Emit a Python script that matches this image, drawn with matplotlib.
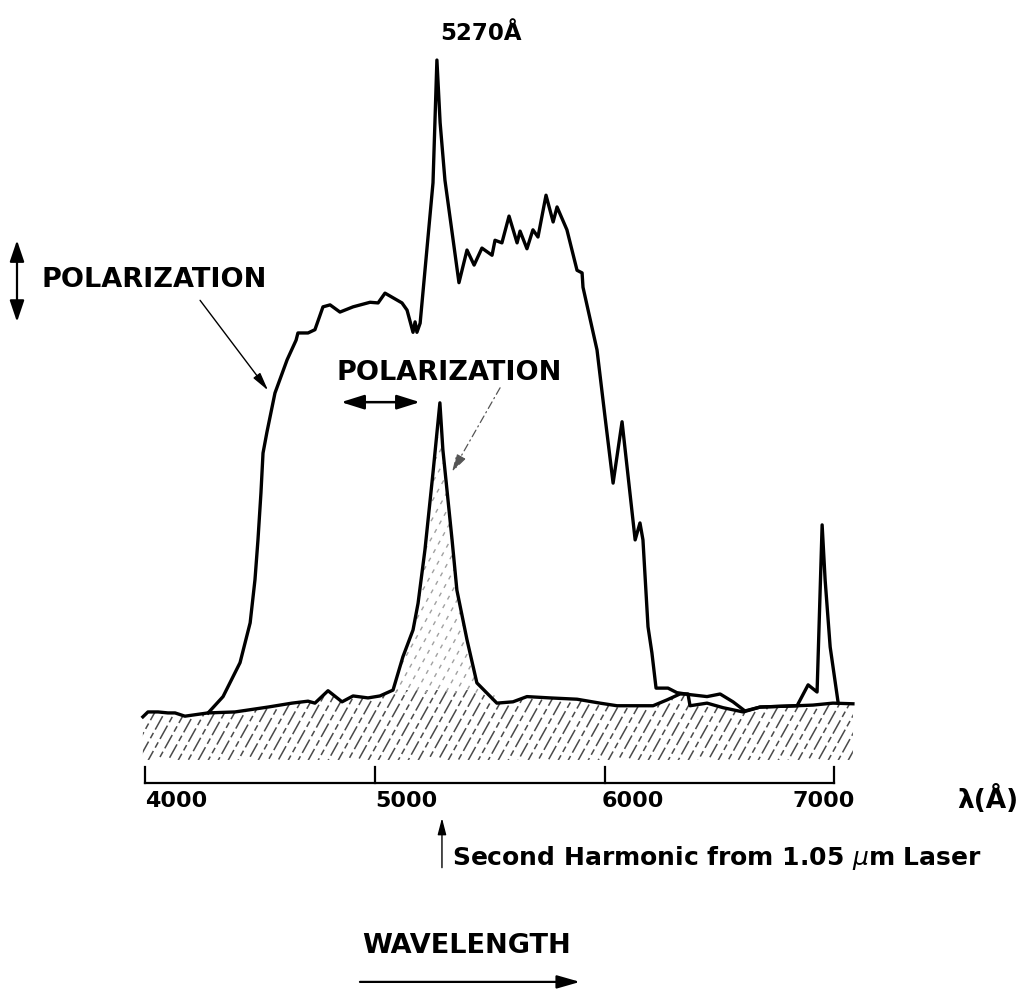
import numpy as np
import matplotlib
matplotlib.use("Agg")
import matplotlib.pyplot as plt
from matplotlib.patches import FancyArrowPatch, Polygon
from matplotlib.collections import LineCollection

plt.rcParams['font.family'] = ['DejaVu Sans']

# Broad emission spectrum (wavelength in Angstrom, relative intensity)
broad_wl = [4274, 4339, 4413, 4457, 4478, 4491, 4504, 4513, 4530, 4565, 4618, 4657,
            4665, 4709, 4739, 4774, 4805, 4848, 4905, 4979, 5014, 5044, 5118, 5140,
            5166, 5175, 5183, 5197, 5253, 5270, 5284, 5305, 5366, 5401, 5432, 5466,
            5510, 5523, 5553, 5584, 5619, 5632, 5662, 5688, 5710, 5745, 5776, 5793,
            5836, 5880, 5902, 5906, 5967, 6002, 6037, 6076, 6133, 6154, 6167, 6189,
            6206, 6224, 6276, 6315, 6372, 6446, 6503, 6559, 6611, 6677, 6838, 6886,
            6925, 6947, 6960, 6982, 7017]
broad_int = [0.0, 2.5, 7.7, 13.8, 20.4, 26.5, 33.7, 39.8, 43.0, 49.0, 54.1, 57.1,
             58.2, 58.2, 58.7, 62.2, 62.5, 61.4, 62.2, 62.9, 62.8, 64.3, 62.8, 61.7,
             58.3, 59.9, 58.3, 59.7, 81.2, 100.0, 90.4, 81.6, 65.9, 70.9, 68.6, 71.2,
             70.1, 72.4, 72.0, 76.1, 72.0, 73.8, 71.1, 74.0, 72.9, 79.3, 75.2, 77.5,
             74.0, 67.8, 67.4, 65.2, 55.6, 45.3, 35.2, 44.6, 26.5, 29.1, 26.5, 13.2,
             9.2, 3.8, 3.8, 3.1, 2.8, 2.5, 2.9, 1.7, 0.3, 0.9, 1.1, 4.3,
             3.2, 28.8, 20.4, 10.1, 1.5]

# Crossed-polarization spectrum (background with the laser second harmonic)
base_wl = [3990, 4012, 4056, 4099, 4130, 4173, 4273, 4391, 4535, 4639, 4709, 4739,
           4796, 4857, 4905, 4970, 5022, 5079, 5122, 5166, 5188, 5218, 5253, 5283,
           5296, 5336, 5357, 5401, 5444, 5531, 5601, 5662, 5762, 5880, 5980, 6054,
           6211, 6272, 6328, 6363, 6372, 6446, 6516, 6603, 6677, 6838, 6907, 6994,
           7081]
base_int = [-0.6, 0.15, 0.15, 0.0, 0.0, -0.5, 0.0, 0.15, 0.9, 1.5, 1.8, 1.5,
            3.4, 1.7, 2.6, 2.3, 2.6, 3.5, 8.6, 12.7, 16.8, 25.0, 36.8, 47.5,
            40.3, 26.5, 18.8, 11.2, 4.6, 1.5, 1.7, 2.5, 2.3, 2.1, 1.5, 1.1,
            1.1, 2.0, 2.9, 2.9, 1.1, 1.5, 0.8, 0.15, 0.9, 1.1, 1.2, 1.5,
            1.4]

tick_values = [4000, 5000, 6000, 7000]
tick_labels = ["4000", "5000", "6000", "7000"]
tick_label_x = [4000, 5000, 5985, 6820]

peak_label = "5270Å"

W, H = 1033, 993
XLIM = (3368, 7865)
YLIM = (-42.9, 109.2)

fig = plt.figure(figsize=(W / 100, H / 100), dpi=100)
ax = fig.add_axes([0, 0, 1, 1])
ax.set_xlim(*XLIM)
ax.set_ylim(*YLIM)
ax.axis("off")


def px_to_data(px, py):
    """Convert figure pixel offsets (origin top-left) into data coordinates."""
    x = XLIM[0] + np.asarray(px) * (XLIM[1] - XLIM[0]) / W
    y = YLIM[1] - np.asarray(py) * (YLIM[1] - YLIM[0]) / H
    return x, y


def hatch_lines(clip_patch, color, dashes, lw=1.0, spacing=10, slope=1.8):
    """Steep broken hatch lines clipped to a polygon, dash phase staggered."""
    y_bot, y_top = 775, 380
    run = (y_bot - y_top) / slope
    period = sum(dashes)
    segs, styles = [], []
    for i, x0 in enumerate(np.arange(-200, 900, spacing)):
        x_a, y_a = px_to_data(x0, y_bot)
        x_b, y_b = px_to_data(x0 + run, y_top)
        segs.append([(x_a, y_a), (x_b, y_b)])
        styles.append(((i * 0.37 * period) % period, dashes))
    lc = LineCollection(segs, colors=color, linewidths=lw, linestyles=styles)
    ax.add_collection(lc)
    lc.set_clip_path(clip_patch)


bw = np.array(base_wl, dtype=float)
bi = np.array(base_int, dtype=float)
floor = -7.2

# hatched background strip; the harmonic peak itself gets a fainter hatch
peak_zone = (bw >= 5079) & (bw <= 5531)
top_dark = np.where(peak_zone, np.minimum(bi, 3.5), bi)
strip_verts = list(zip(bw, top_dark)) + [(bw[-1], floor), (bw[0], floor)]
strip = Polygon(strip_verts, closed=True, facecolor="none", edgecolor="none")
ax.add_patch(strip)
hatch_lines(strip, "#4a4a4a", (10, 2.5, 4, 2.5), lw=1.1)

pw = bw[peak_zone]
pi = bi[peak_zone]
peak_verts = list(zip(pw, pi)) + [(pw[-1], 3.0), (pw[0], 3.0)]
peak_patch = Polygon(peak_verts, closed=True, facecolor="none", edgecolor="none")
ax.add_patch(peak_patch)
hatch_lines(peak_patch, "#a0a0a0", (3, 4), lw=1.0)

ax.plot(broad_wl, broad_int, color="black", lw=2.4, solid_joinstyle="round")
ax.plot(base_wl, base_int, color="black", lw=2.4, solid_joinstyle="round")

# wavelength bracket
ax.plot([tick_values[0], tick_values[-1]], [-10.7, -10.7], color="black", lw=1.6)
for t in tick_values:
    ax.plot([t, t], [-10.7, -8.3], color="black", lw=1.6)
for x, lab in zip(tick_label_x, tick_labels):
    ax.text(x, -13.5, lab, ha="left", va="center", fontsize=16, fontweight="bold")
ax.text(7669, -13.3, "λ(Å)", ha="center", va="center", fontsize=19, fontweight="bold")

# peak label
ax.text(5462, 104.0, peak_label, ha="center", va="center", fontsize=16.5,
        fontweight="bold")

# polarization labels and symbols
ax.text(4039, 66.3, "POLARIZATION", ha="center", va="center", fontsize=19.5,
        fontweight="bold")
ax.add_patch(FancyArrowPatch((3442, 59.9), (3442, 72.4),
                             arrowstyle="<|-|>,head_length=0.65,head_width=0.22",
                             mutation_scale=20, color="black", lw=1.6,
                             shrinkA=0, shrinkB=0))
ax.add_patch(FancyArrowPatch((4239, 63.2), (4535, 49.4),
                             arrowstyle="-|>,head_length=0.55,head_width=0.13",
                             mutation_scale=20, color="black", lw=1.0,
                             shrinkA=0, shrinkB=0))

ax.text(5323, 52.1, "POLARIZATION", ha="center", va="center", fontsize=19.5,
        fontweight="bold")
ax.add_patch(FancyArrowPatch((4853, 47.6), (5196, 47.6),
                             arrowstyle="<|-|>,head_length=0.7,head_width=0.22",
                             mutation_scale=20, color="black", lw=1.8,
                             shrinkA=0, shrinkB=0))
ax.add_patch(FancyArrowPatch((5545, 49.8), (5336, 36.9),
                             arrowstyle="-|>,head_length=0.55,head_width=0.16",
                             mutation_scale=20, color="#555555", lw=0.9,
                             linestyle=(0, (6, 3, 1, 3)),
                             shrinkA=0, shrinkB=0))

# laser harmonic marker
ax.add_patch(FancyArrowPatch((5292, -23.7), (5292, -16.1),
                             arrowstyle="-|>,head_length=0.5,head_width=0.13",
                             mutation_scale=20, color="black", lw=1.0,
                             shrinkA=0, shrinkB=0))
ax.text(5336, -22.2, "Second Harmonic from 1.05 $\\mu$m Laser", ha="left",
        va="center", fontsize=18, fontweight="bold")

# wavelength direction
ax.text(5401, -35.7, "WAVELENGTH", ha="center", va="center", fontsize=19.5,
        fontweight="bold")
ax.add_patch(FancyArrowPatch((4935, -41.2), (5893, -41.2),
                             arrowstyle="-|>,head_length=0.7,head_width=0.2",
                             mutation_scale=20, color="black", lw=1.6,
                             shrinkA=0, shrinkB=0))

fig.savefig("out.png", dpi=100)
